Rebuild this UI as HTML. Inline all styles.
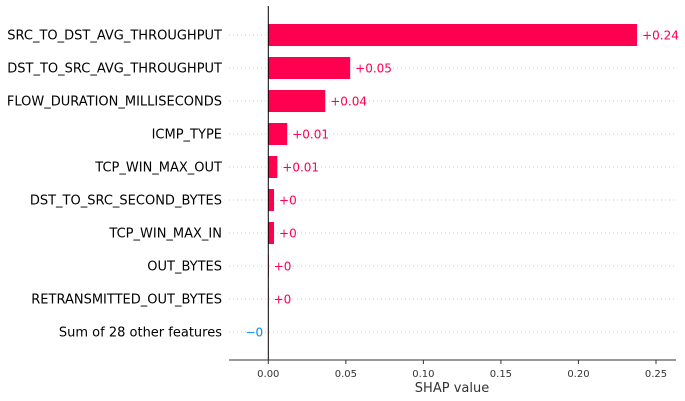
<!DOCTYPE html>
<html><head><meta charset="utf-8"><style>
html,body{margin:0;padding:0;background:#fff;}
svg{display:block;font-family:"DejaVu Sans","Liberation Sans",sans-serif;}
</style></head><body>
<svg id="chart" width="685" height="401"></svg>
<script>
const features = ["SRC_TO_DST_AVG_THROUGHPUT","DST_TO_SRC_AVG_THROUGHPUT","FLOW_DURATION_MILLISECONDS","ICMP_TYPE","TCP_WIN_MAX_OUT","DST_TO_SRC_SECOND_BYTES","TCP_WIN_MAX_IN","OUT_BYTES","RETRANSMITTED_OUT_BYTES","Sum of 28 other features"];
const shapValues = [0.2378,0.0528,0.0367,0.0122,0.0058,0.0037,0.0037,0.0003,0.0002,-0.0001];
const valueLabels = ["+0.24","+0.05","+0.04","+0.01","+0.01","+0","+0","+0","+0","\u22120"];
const tickValues = [0,0.05,0.1,0.15,0.2,0.25];
const tickLabels = ["0.00","0.05","0.10","0.15","0.20","0.25"];

const NS="http://www.w3.org/2000/svg";
const svg=document.getElementById('chart');
const x0=268.3, pxPer=(656-268.3)/0.25;
const xs=v=>x0+v*pxPer;
const ys=i=>35+i*33;
function mk(tag,attrs,parent){const e=document.createElementNS(NS,tag);for(const k in attrs)e.setAttribute(k,attrs[k]);(parent||svg).appendChild(e);return e;}

features.forEach((f,i)=>{
  const y=ys(i);
  const g=mk('line',{x1:229,x2:676,y1:y,y2:y,stroke:'#ccc','stroke-width':1,'stroke-dasharray':'1,3'});
  
  
  const t=mk('text',{x:222,y:y+4.5,'text-anchor':'end','font-size':13,fill:'#000'});
  t.textContent=f;
  
  
  const v=shapValues[i];
  const pos=v>=0;
  const col=pos?'#ff0051':'#008bfb';
  const xa=Math.min(xs(0),xs(v)), w=Math.abs(xs(v)-xs(0));
  const b=mk('rect',{x:xa,y:y-11,width:w,height:22,fill:col});
  
  
  const lbl=mk('text',{x:pos?xs(v)+5:xs(v)-5,y:y+4.5,'text-anchor':pos?'start':'end','font-size':12,fill:col});
  lbl.textContent=valueLabels[i];
  
  
});

const zl=mk('line',{x1:x0,x2:x0,y1:6,y2:360,stroke:'#000','stroke-width':1});


const ax=mk('line',{x1:229,x2:676,y1:360,y2:360,stroke:'#333','stroke-width':1});


tickValues.forEach((tv,i)=>{
  const x=xs(tv);
  const tk=mk('line',{x1:x,x2:x,y1:360,y2:364,stroke:'#333','stroke-width':1});
  
  
  const tl=mk('text',{x:x,y:377,'text-anchor':'middle','font-size':10,fill:'#333'});
  tl.textContent=tickLabels[i];
  
  
});
const xt=mk('text',{x:452,y:392,'text-anchor':'middle','font-size':13,fill:'#333'});
xt.textContent='SHAP value';


</script>
</body></html>
